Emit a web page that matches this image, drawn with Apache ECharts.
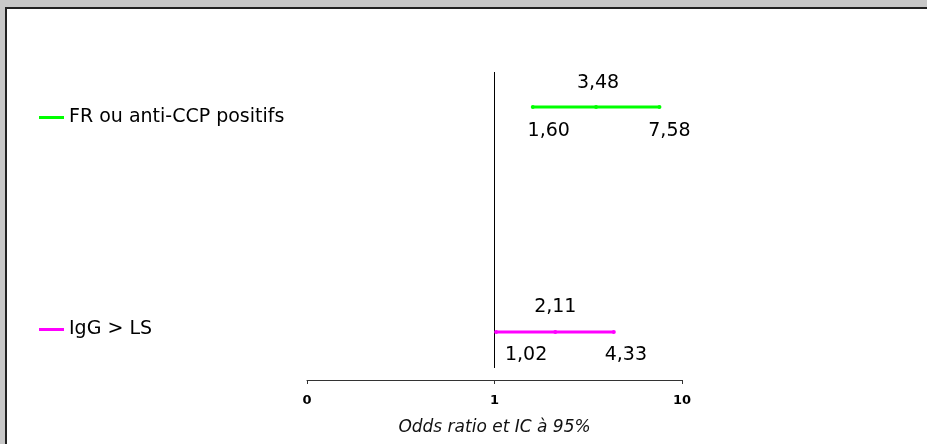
<!DOCTYPE html>
<html>
<head>
<meta charset="utf-8">
<script src="https://cdn.jsdelivr.net/npm/echarts@6/dist/echarts.min.js"></script>
<style>
html,body{margin:0;padding:0;background:#fff;}
#chart{width:927px;height:444px;}
</style>
</head>
<body>
<div id="chart"></div>
<script>
// ---- data ----
const categories = ['FR ou anti-CCP positifs', 'IgG > LS'];
const oddsRatio = [3.48, 2.11];
const ciLow = [1.60, 1.02];
const ciHigh = [7.58, 4.33];
const tickValues = [0.1, 1, 10];
const tickLabels = ['0', '1', '10'];
const axisTitle = 'Odds ratio et IC à 95%';

// ---- layout / style (not data) ----
const colors = ['#00ff00', '#ff00ff'];
const rowLevel = [0.886, 0.156];          // vertical placement of each row in the plot area
const refLineBottom = 0.039;
const labelDx = [[16, 2, 10], [30, 0, 12]]; // horizontal nudges of [low, OR, high] labels

const fmt = v => v.toFixed(2).replace('.', ',');
const labelFont = { fontFamily: 'DejaVu Sans', fontSize: 19, color: '#000' };

const series = categories.map((name, i) => {
  const vals = [ciLow[i], oddsRatio[i], ciHigh[i]];
  return {
    name: name,
    type: 'line',
    symbol: 'circle',
    symbolSize: 4,
    lineStyle: { color: colors[i], width: 3 },
    itemStyle: { color: colors[i] },
    emphasis: { disabled: true },
    data: vals.map((v, k) => ({
      value: [v, rowLevel[i]],
      label: Object.assign({
        show: true,
        position: k === 1 ? 'top' : 'bottom',
        distance: k === 1 ? 13 : 12,
        offset: [labelDx[i][k], 0],
        formatter: () => fmt(v)
      }, labelFont)
    }))
  };
});

series.push({
  type: 'line',
  name: 'ref',
  symbol: 'none',
  silent: true,
  lineStyle: { color: '#000', width: 1 },
  data: [[1, refLineBottom], [1, 1]]
});

const chart = echarts.init(document.getElementById('chart'));
chart.setOption({
  animation: false,
  backgroundColor: '#fff',
  graphic: [
    { type: 'rect', shape: { x: 0, y: 0, width: 927, height: 7 }, style: { fill: '#c8c8c8' }, silent: true },
    { type: 'rect', shape: { x: 0, y: 0, width: 5, height: 444 }, style: { fill: '#c8c8c8' }, silent: true },
    { type: 'rect', shape: { x: 5, y: 7, width: 922, height: 2 }, style: { fill: '#222' }, silent: true },
    { type: 'rect', shape: { x: 5, y: 7, width: 2, height: 437 }, style: { fill: '#222' }, silent: true }
  ],
  legend: categories.map((name, i) => ({
    data: [{ name: name, icon: 'rect', itemStyle: { color: colors[i] } }],
    left: 39,
    top: i === 0 ? 108 : 320,
    padding: 0,
    itemWidth: 25,
    itemHeight: 3,
    itemGap: 5,
    selectedMode: false,
    textStyle: { fontFamily: 'DejaVu Sans', fontSize: 19, color: '#000', padding: [0, 0, 0, 0] }
  })),
  grid: { left: 307, right: 245, top: 72, bottom: 64, containLabel: false },
  xAxis: {
    type: 'log',
    logBase: 10,
    min: tickValues[0],
    max: tickValues[tickValues.length - 1],
    splitLine: { show: false },
    axisLine: { lineStyle: { color: '#333', width: 1 } },
    axisTick: { show: true, inside: false, length: 4, lineStyle: { color: '#333' } },
    minorTick: { show: false },
    axisLabel: {
      margin: 14,
      fontFamily: 'DejaVu Sans',
      fontWeight: 'bold',
      fontSize: 13,
      color: '#000',
      formatter: v => {
        const idx = tickValues.findIndex(t => Math.abs(t - v) < 1e-9);
        return idx >= 0 ? tickLabels[idx] : '';
      }
    },
    name: axisTitle,
    nameLocation: 'middle',
    nameGap: 39,
    nameTextStyle: { fontFamily: 'DejaVu Sans', fontStyle: 'italic', fontSize: 17, color: '#111' }
  },
  yAxis: {
    type: 'value',
    min: 0,
    max: 1,
    show: false
  },
  series: series
});
</script>
</body>
</html>
